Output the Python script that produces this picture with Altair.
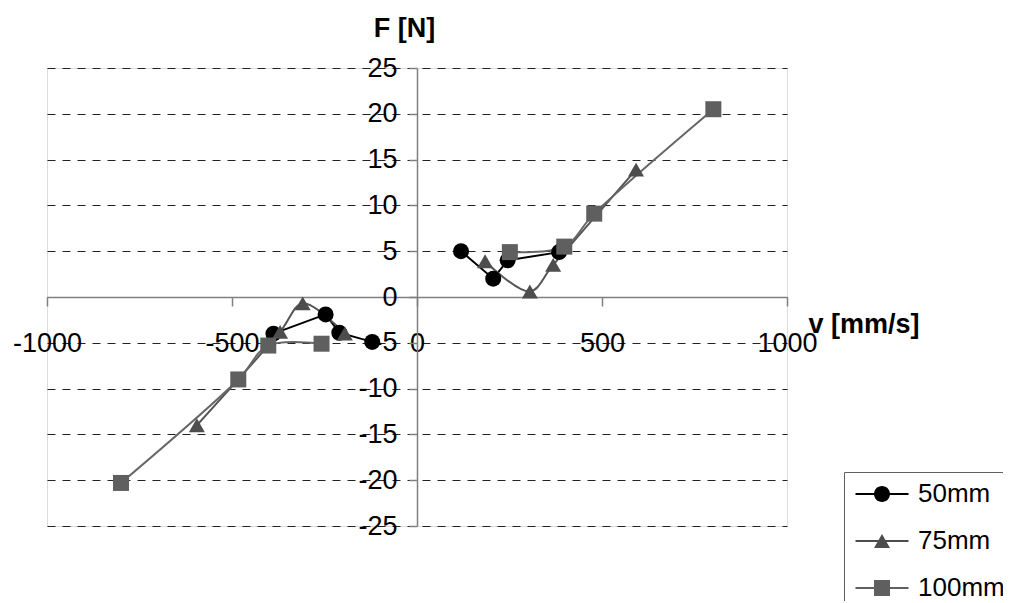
import altair as alt
import pandas as pd

# ---- data ----
series_names = ["50mm", "75mm", "100mm"]
v50 = [-388, -247, -210, -121, 119, 206, 245, 384]
f50 = [-4.0, -1.9, -3.9, -4.9, 5.0, 2.0, 4.0, 4.9]
v75 = [-595, -370, -309, -195, 184, 305, 368, 592]
f75 = [-14.0, -3.8, -0.7, -4.0, 3.9, 0.6, 3.5, 13.9]
v100 = [-800, -483, -402, -258, 251, 398, 479, 801]
f100 = [-20.3, -9.0, -5.3, -5.1, 4.9, 5.5, 9.1, 20.5]
x_ticks = [-1000, -500, 0, 500, 1000]
y_ticks = [-25, -20, -15, -10, -5, 0, 5, 10, 15, 20, 25]

rows = []
for name, vs, fs in zip(series_names, [v50, v75, v100], [f50, f75, f100]):
    for v, f in zip(vs, fs):
        rows.append({"v": v, "F": f, "series": name, "seg": "neg" if v < 0 else "pos"})
df = pd.DataFrame(rows)

FONT = "Liberation Sans"
W, H = 740, 458

xenc = alt.X(
    "v:Q",
    scale=alt.Scale(domain=[-1000, 1000], nice=False, zero=False),
    axis=alt.Axis(
        values=x_ticks, offset=-H / 2, tickSize=9, labelPadding=24,
        grid=False, domainColor="#808080", tickColor="#808080",
        domainWidth=1.5, tickWidth=1.5,
        labelExpr="'' + datum.value",
        labelFont=FONT, labelFontSize=27, labelColor="black",
        labelFlush=False, labelOverlap=False, labelBound=False,
        title="v [mm/s]", titleFont=FONT, titleFontSize=27, titleFontWeight="bold",
        titleColor="black", titleX=761, titleY=35, titleAlign="left",
        titleBaseline="alphabetic", titleAngle=0, titleAnchor="start",
    ),
)
yenc = alt.Y(
    "F:Q",
    scale=alt.Scale(domain=[-25, 25], nice=False, zero=False),
    axis=alt.Axis(
        values=y_ticks, offset=-W / 2, tickSize=8, labelPadding=12,
        grid=True, gridDash=[8, 7], gridColor="#222222", gridWidth=1,
        domainColor="#808080", tickColor="#808080", domainWidth=1.5, tickWidth=1.5,
        labelExpr="'' + datum.value",
        labelFont=FONT, labelFontSize=27, labelColor="black",
        labelFlush=False, labelOverlap=False, labelBound=False,
        title="F [N]", titleFont=FONT, titleFontSize=27, titleFontWeight="bold",
        titleColor="black", titleX=-13, titleY=-32, titleAlign="center",
        titleBaseline="alphabetic", titleAngle=0,
    ),
)

line_colors = {"50mm": "#000000", "75mm": "#555555", "100mm": "#666666"}
marker_colors = {"50mm": "#000000", "75mm": "#4d4d4d", "100mm": "#5f5f5f"}
marker_shapes = {"50mm": "circle", "75mm": "triangle-up", "100mm": "square"}
interp = {"50mm": "linear", "75mm": "catmull-rom", "100mm": "catmull-rom"}

layers = []
for name in series_names:
    sub = df[df.series == name]
    layers.append(
        alt.Chart(sub).mark_line(
            interpolate=interp[name], color=line_colors[name], strokeWidth=2
        ).encode(x=xenc, y=yenc, detail="seg:N")
    )
for name in series_names:
    sub = df[df.series == name]
    layers.append(
        alt.Chart(sub).mark_point(
            shape=marker_shapes[name], filled=True, size=256,
            color=marker_colors[name], opacity=1
        ).encode(x=xenc, y=yenc)
    )

# legend symbols: a short filled bar (the line) plus the marker
legend_paths = [
    "M-2.65,-0.1H2.65V0.1H-2.65ZM0.8,0A0.8,0.8,0,1,1,-0.8,0A0.8,0.8,0,1,1,0.8,0Z",
    "M-2.65,-0.1H2.65V0.1H-2.65ZM0,-0.7L0.8,0.7L-0.8,0.7Z",
    "M-2.65,-0.1H2.65V0.1H-2.65ZM-0.8,-0.8H0.8V0.8H-0.8Z",
]
leg = alt.Legend(
    orient="none", legendX=797, legendY=404, title=None,
    padding=9, strokeColor="#606060", fillColor="white",
    symbolSize=400, symbolStrokeWidth=0, symbolOffset=16,
    symbolOpacity=1, symbolFillColor="black", symbolStrokeColor="transparent",
    labelFont=FONT, labelFontSize=26, labelColor="black",
    labelOffset=23, rowPadding=21, labelLimit=300,
)
dom = series_names
legend_layer = alt.Chart(df).mark_point(filled=True, opacity=0, size=10).encode(
    x=xenc, y=yenc,
    color=alt.Color("series:N", scale=alt.Scale(domain=dom, range=[marker_colors[n] for n in dom]), legend=leg),
    shape=alt.Shape("series:N", scale=alt.Scale(domain=dom, range=legend_paths), legend=leg),
)
layers.append(legend_layer)

chart = alt.layer(*layers).properties(
    width=W, height=H,
    autosize=alt.AutoSizeParams(type="none"),
    padding={"left": 39, "top": 60, "right": 216, "bottom": 75},
).configure_view(stroke=None).configure(background="white")

chart.save("out.html", embed_options={"renderer": "svg", "actions": False})
